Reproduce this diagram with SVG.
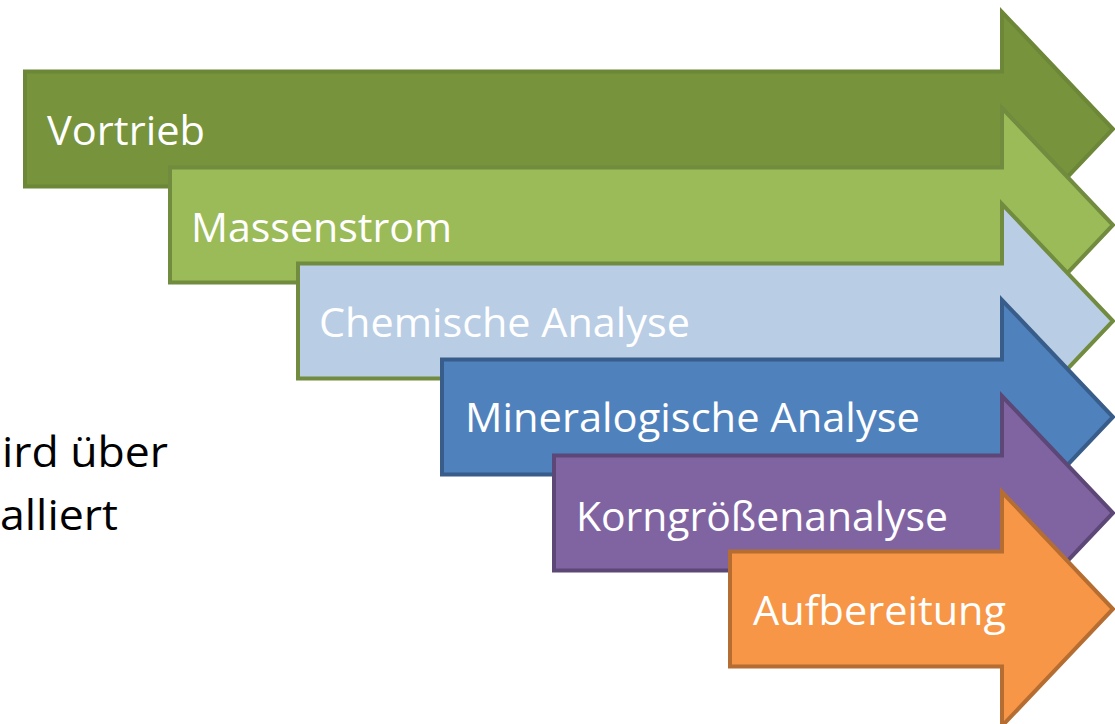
<svg xmlns="http://www.w3.org/2000/svg" width="1115" height="724" viewBox="0 0 1115 724">
<style>
.lbl{font-family:"Open Sans","Noto Sans",sans-serif;font-size:41px;fill:#ffffff}
.side{font-family:"Open Sans","Noto Sans",sans-serif;font-size:42px;fill:#000000}
.arr{stroke-width:4;stroke-linejoin:miter}
</style>
<rect width="1115" height="724" fill="#ffffff"/>
<g id="side-text">
<text class="side" x="2" y="467" textLength="166" lengthAdjust="spacingAndGlyphs">ird über</text>
<text class="side" x="0" y="530" textLength="118" lengthAdjust="spacingAndGlyphs">alliert</text>
</g>
<g id="vortrieb">
<path class="arr" d="M25,71.5 H1002 V12 L1113,129 L1002,246 V186.5 H25 Z" fill="#77933c" stroke="#6b8737"/>
<text class="lbl" x="47" y="145" textLength="158" lengthAdjust="spacingAndGlyphs">Vortrieb</text>
</g>
<g id="massenstrom">
<path class="arr" d="M170,167.5 H1002 V108 L1113,225 L1002,342 V282.5 H170 Z" fill="#9bbb59" stroke="#718b3f"/>
<text class="lbl" x="191" y="242" textLength="261" lengthAdjust="spacingAndGlyphs">Massenstrom</text>
</g>
<g id="chemische">
<path class="arr" d="M298,263.5 H1002 V204 L1113,321 L1002,438 V378.5 H298 Z" fill="#b9cde5" stroke="#718b3f"/>
<text class="lbl" x="319" y="337" textLength="371" lengthAdjust="spacingAndGlyphs">Chemische Analyse</text>
</g>
<g id="mineralogische">
<path class="arr" d="M442,359.5 H1002 V300 L1113,417 L1002,534 V474.5 H442 Z" fill="#4f81bd" stroke="#385d8a"/>
<text class="lbl" x="465" y="432" textLength="455" lengthAdjust="spacingAndGlyphs">Mineralogische Analyse</text>
</g>
<g id="korngroessen">
<path class="arr" d="M554,455.5 H1002 V396 L1113,513 L1002,630 V570.5 H554 Z" fill="#8064a2" stroke="#5c4776"/>
<text class="lbl" x="576" y="531" textLength="372" lengthAdjust="spacingAndGlyphs">Korngrößenanalyse</text>
</g>
<g id="aufbereitung">
<path class="arr" d="M730,551.5 H1002 V492 L1113,609 L1002,726 V666.5 H730 Z" fill="#f79646" stroke="#b66d31"/>
<text class="lbl" x="753" y="625" textLength="253" lengthAdjust="spacingAndGlyphs">Aufbereitung</text>
</g>
<g id="connectors"></g>
</svg>
